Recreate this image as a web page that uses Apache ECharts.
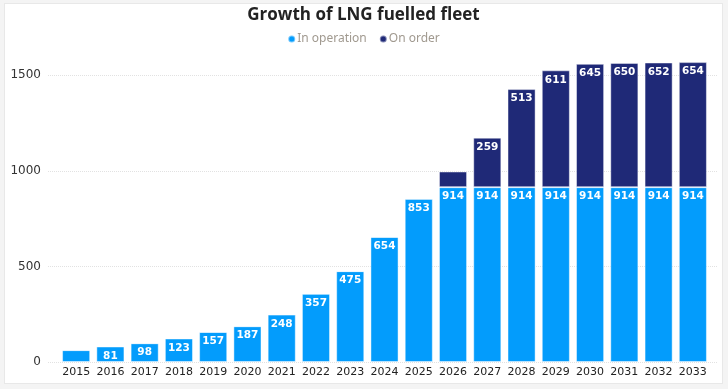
<!DOCTYPE html>
<html>
<head>
<meta charset="utf-8">
<script src="https://cdn.jsdelivr.net/npm/echarts@6/dist/echarts.min.js"></script>
<style>
  html, body { margin: 0; padding: 0; background: #f4f4f4; }
  #chart { position: absolute; left: 4px; top: 3px; width: 719px; height: 381px;
           background: #fff; border: 1px solid #e8e8e8; box-sizing: border-box; }
</style>
</head>
<body>
<div id="chart"></div>
<script>
const years = ['2015','2016','2017','2018','2019','2020','2021','2022','2023','2024',
               '2025','2026','2027','2028','2029','2030','2031','2032','2033'];
const inOperation = [62, 81, 98, 123, 157, 187, 248, 357, 475, 654,
                     853, 914, 914, 914, 914, 914, 914, 914, 914];
const onOrder = [0, 0, 0, 0, 0, 0, 0, 0, 0, 0,
                 0, 82, 259, 513, 611, 645, 650, 652, 654];

const chart = echarts.init(document.getElementById('chart'));

// small bars get no label, like the original
const labelFmt = p => (p.value < 90 && p.seriesIndex === 1 || p.value < 70 ? '' : String(p.value));

const barLabel = {
  show: true,
  position: 'insideTop',
  distance: 4,
  color: '#fff',
  fontFamily: 'DejaVu Sans',
  fontWeight: 'bold',
  fontSize: 10.5,
  formatter: labelFmt
};

const yRange = { type: 'value', min: 0, max: 1600, interval: 500 };

chart.setOption({
  animation: false,
  title: {
    text: 'Growth of LNG fuelled fleet',
    left: 'center',
    top: 0,
    padding: [3, 5, 5, 5],
    textStyle: { fontFamily: 'Open Sans', fontWeight: 'bold', fontSize: 17, color: '#222' }
  },
  legend: {
    top: 24,
    left: 'center',
    icon: 'circle',
    itemWidth: 7,
    itemHeight: 7,
    itemGap: 12,
    textStyle: { fontFamily: 'Noto Sans', fontSize: 12, color: '#a0998f', padding: [0, 0, 0, -3] },
    data: ['In operation', 'On order']
  },
  grid: [
    { left: 54, right: 12, top: 52, bottom: 21 },
    // wider grid only for the dotted guide lines
    { left: 43, right: 5, top: 52, bottom: 21 }
  ],
  xAxis: [
    {
      type: 'category',
      data: years,
      axisLine: { show: false },
      axisTick: { show: false },
      axisLabel: { interval: 0, color: '#222', fontFamily: 'DejaVu Sans', fontSize: 11, margin: 5 }
    },
    { type: 'value', gridIndex: 1, show: false, min: 0, max: 1 }
  ],
  yAxis: [
    {
      ...yRange,
      axisLabel: {
        showMaxLabel: false,
        color: '#333', fontFamily: 'DejaVu Sans', fontSize: 12, margin: 18,
        formatter: v => String(v)
      },
      splitLine: { show: false }
    },
    {
      ...yRange,
      gridIndex: 1,
      axisLabel: { show: false },
      axisLine: { show: false },
      axisTick: { show: false },
      splitLine: { showMaxLine: false, lineStyle: { type: 'dotted', color: '#e2e2e2' } }
    }
  ],
  series: [
    {
      name: 'In operation',
      type: 'bar',
      stack: 'fleet',
      data: inOperation,
      barCategoryGap: '18%',
      z: 3,
      itemStyle: { color: '#039cfc', borderColor: 'rgba(255,255,255,0.45)', borderWidth: 1 },
      label: barLabel
    },
    {
      name: 'On order',
      type: 'bar',
      stack: 'fleet',
      data: onOrder,
      z: 3,
      itemStyle: { color: '#1f2977', borderColor: 'rgba(255,255,255,0.45)', borderWidth: 1 },
      label: barLabel
    }
  ]
});
</script>
</body>
</html>
